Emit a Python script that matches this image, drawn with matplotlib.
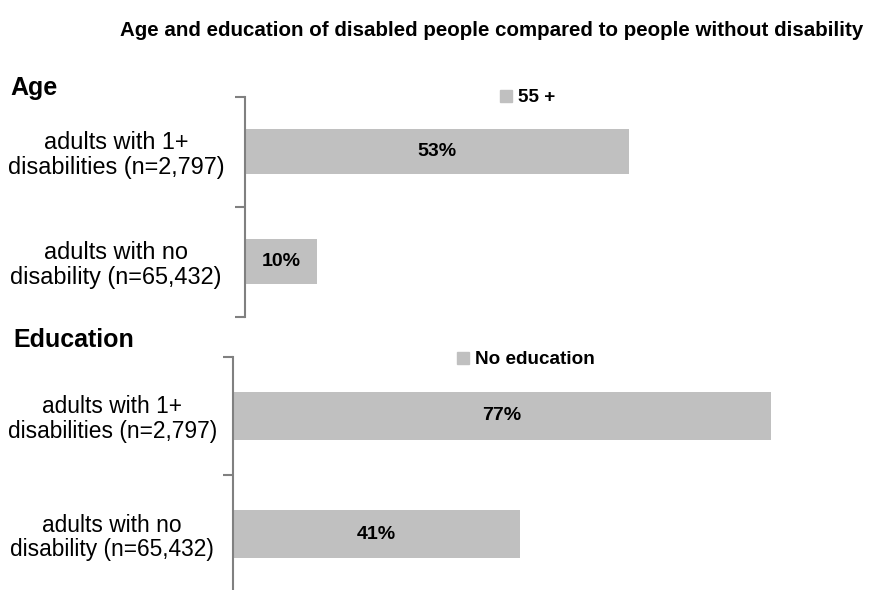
import matplotlib
matplotlib.use("Agg")
import matplotlib.pyplot as plt
from matplotlib.patches import Patch

plt.rcParams['font.family'] = ['Liberation Sans', 'DejaVu Sans']

# data
groups = ['adults with 1+\ndisabilities (n=2,797)', 'adults with no\ndisability (n=65,432)']
age_55_plus = [53, 10]
no_education = [77, 41]
panel_titles = ['Age', 'Education']
legend_labels = ['55 +', 'No education']

bar_color = '#c0c0c0'
spine_color = '#808080'

W, H = 873, 590
fig = plt.figure(figsize=(W / 100, H / 100), dpi=100)


def px_axes(left, top, bottom):
    # pixel positions (from top-left) -> figure fraction
    return fig.add_axes([left / W, 1 - bottom / H, (W - left) / W, (bottom - top) / H])


def draw_panel(ax, values, px_per_pct, legend_label, legend_xy, label_pad, label_size):
    left_px = ax.get_position().x0 * W
    ax.set_xlim(0, (W - left_px) / px_per_pct)
    ax.set_ylim(0, 2)
    ypos = [1.5, 0.5]
    ax.barh(ypos, values, height=0.41, color=bar_color)
    for y, v in zip(ypos, values):
        ax.text(v / 2, y, f'{v}%', ha='center', va='center',
                fontsize=14, fontweight='bold')
    for s in ['top', 'right', 'bottom']:
        ax.spines[s].set_visible(False)
    ax.spines['left'].set_color(spine_color)
    ax.spines['left'].set_linewidth(1.5)
    ax.set_xticks([])
    # boundary ticks between categories
    ax.set_yticks([0, 1, 2])
    ax.set_yticklabels([])
    ax.tick_params(axis='y', which='major', length=7, width=1.5, color=spine_color)
    # category labels sit on invisible minor ticks
    ax.set_yticks(ypos, minor=True)
    ax.set_yticklabels(groups, minor=True, ha='center', multialignment='center',
                       fontsize=label_size, linespacing=1.1)
    ax.tick_params(axis='y', which='minor', length=0, pad=label_pad)
    ax.legend(handles=[Patch(color=bar_color, label=legend_label)],
              loc='center left', bbox_to_anchor=legend_xy,
              bbox_transform=fig.transFigure, frameon=False,
              prop={'weight': 'bold', 'size': 13.6}, handlelength=0.65,
              handleheight=0.65, handletextpad=0.3, borderpad=0, borderaxespad=0)


ax1 = px_axes(245, 96.7, 316.7)
draw_panel(ax1, age_55_plus, 7.24, legend_labels[0], (500 / W, 1 - 98 / H), 93, 16.9)

ax2 = px_axes(233, 356.7, 593.3)
draw_panel(ax2, no_education, 6.99, legend_labels[1], (457 / W, 1 - 360 / H), 87, 16.4)

fig.text(10 / W, 1 - 88 / H, panel_titles[0], fontsize=18, fontweight='bold', va='center')
fig.text(13 / W, 1 - 340 / H, panel_titles[1], fontsize=18, fontweight='bold', va='center')

fig.text(492 / W, 1 - 31 / H,
         'Age and education of disabled people compared to people without disability',
         ha='center', va='center', fontsize=14.8, fontweight='bold')

fig.savefig('out.png', dpi=100)
